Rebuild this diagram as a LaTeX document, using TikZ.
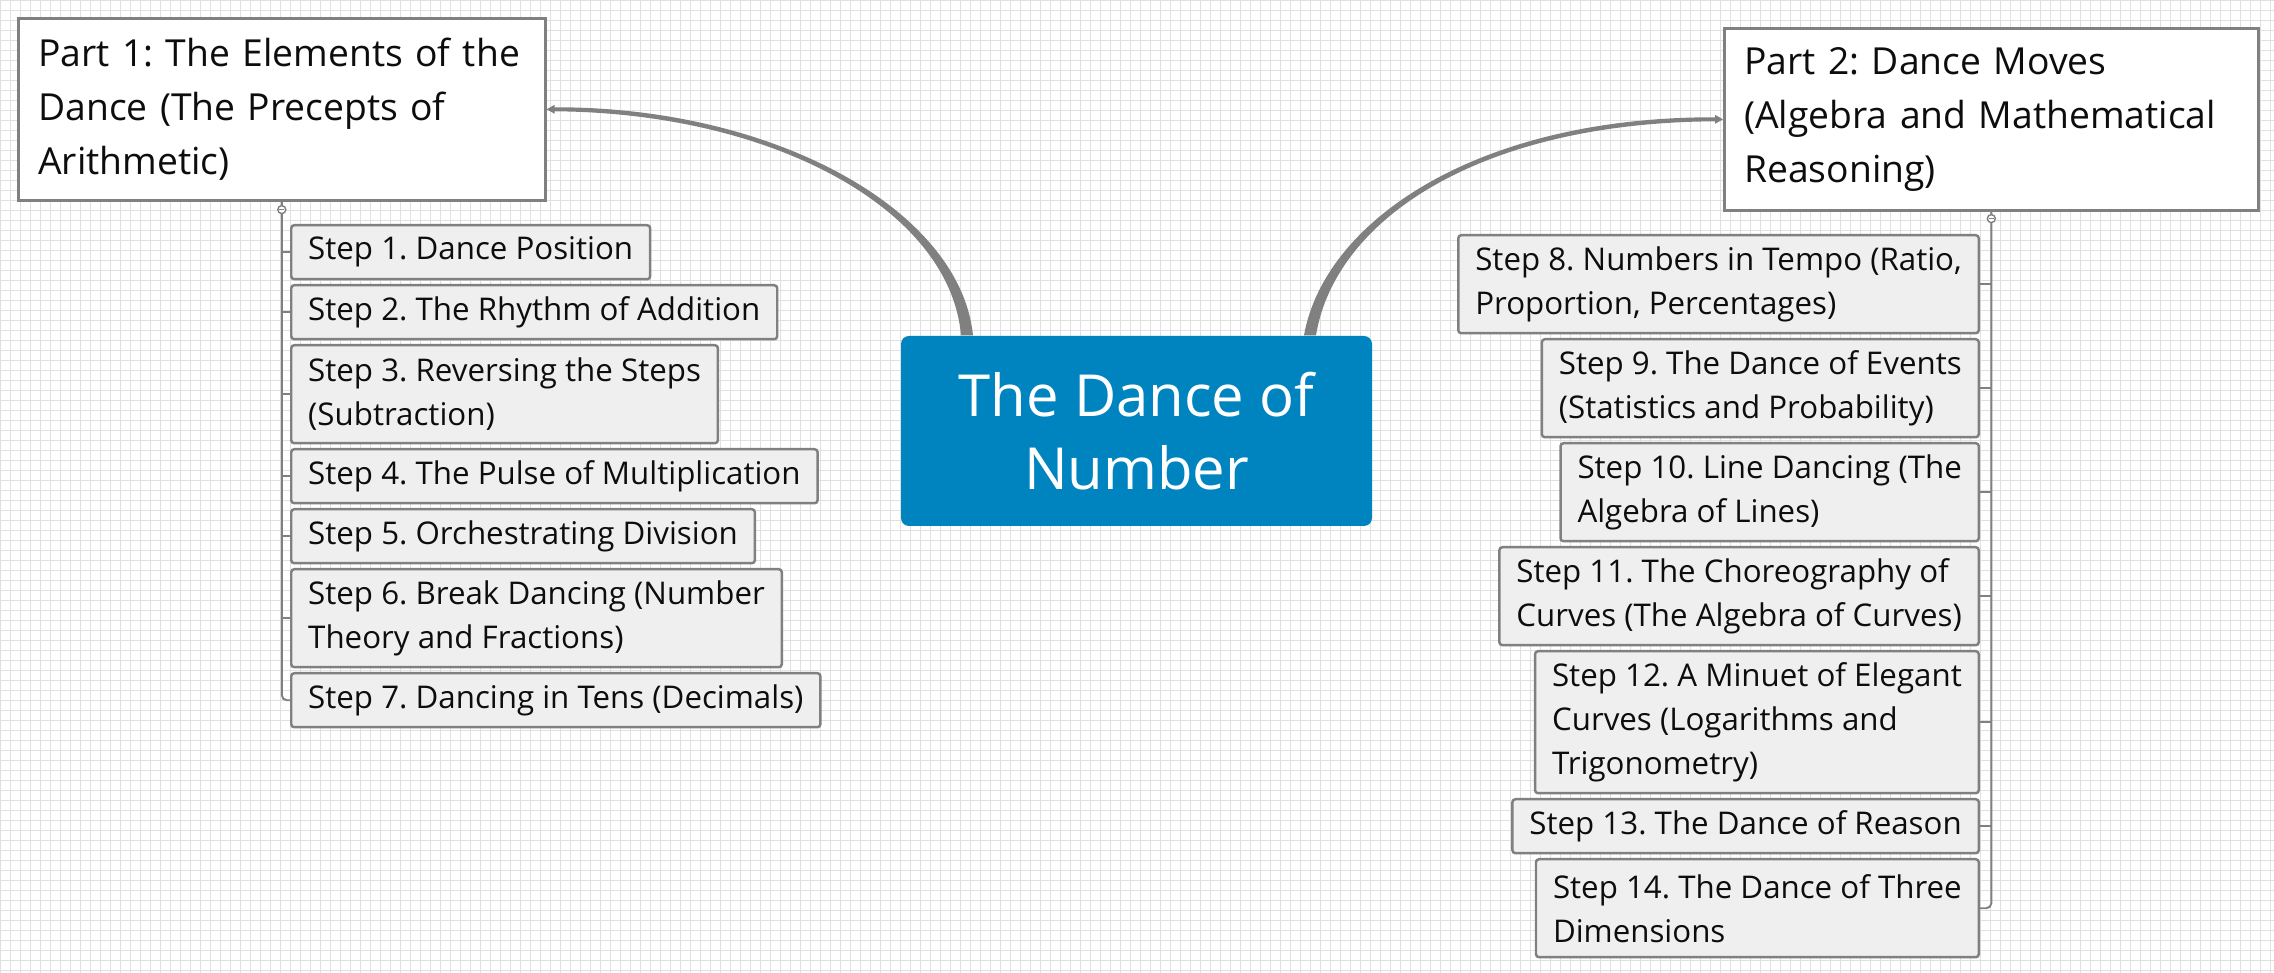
\documentclass[tikz,border=0pt]{standalone}
\usepackage{fontspec}
\setmainfont{Open Sans}
\usetikzlibrary{calc}
\definecolor{rootblue}{RGB}{0,132,192}
\definecolor{linkgray}{RGB}{128,128,128}
\definecolor{boxgray}{RGB}{239,239,239}
\pgfdeclarelayer{background}
\pgfsetlayers{background,main}
\frenchspacing

\begin{document}
\begin{tikzpicture}[x=0.1mm,y=-0.1mm]
        \tikzstyle{every node}=[inner sep=0pt, text=black!95]
        \tikzstyle{gridline}=[draw=black!12, line width=0.25pt, step=1mm]
        \tikzstyle{root}=[fill=rootblue, rounded corners=0.8mm, text=white, align=center, minimum width=47.1mm, minimum height=19mm, font=\fontsize{16.5}{20.7}\selectfont]
        \tikzstyle{part}=[draw=linkgray, fill=white, line width=0.75pt, inner xsep=2mm, align=left, minimum height=18.2mm, font=\fontsize{10.6}{15.4}\selectfont]
        \tikzstyle{stepbox}=[draw=linkgray, fill=boxgray, line width=0.7pt, rounded corners=0.3mm, inner xsep=1.7mm, align=left, font=\fontsize{8.9}{12.5}\selectfont]
        \tikzstyle{one}=[minimum height=5.4mm]
        \tikzstyle{two}=[minimum height=9.8mm]
        \tikzstyle{three}=[minimum height=14.2mm]
        \tikzstyle{link}=[fill=linkgray]
        \tikzstyle{trunk}=[draw=linkgray, line width=0.55pt]
        \tikzstyle{fold}=[circle, draw=linkgray, fill=white, line width=0.4pt, minimum size=0.8mm,
            path picture={\draw[linkgray, line width=0.3pt] ([xshift=-0.25mm]path picture bounding box.center) -- ([xshift=0.25mm]path picture bounding box.center);}]

        \useasboundingbox (0,0) rectangle (2274,973);
        \begin{pgfonlayer}{background}
            \fill[white] (0,0) rectangle (2274,973);
            \draw[gridline] (0,0) grid (2274,973);
        \end{pgfonlayer}

        % centre and the two parts
        \node[root] (root) at (1136.5,431) {The Dance of\\Number};
        \node[part, anchor=north west, text width=48.7mm] (part1) at (17,17) {Part 1: The Elements of the\\Dance (The Precepts of\\Arithmetic)};
        \node[part, anchor=north west, text width=49.4mm] (part2) at (1723,27) {Part 2: Dance Moves\\(Algebra and Mathematical\\Reasoning)};

        % steps of part 1
        \node[stepbox, one, anchor=north west] (s1) at (290,224) {Step 1. Dance Position};
        \node[stepbox, one, anchor=north west] (s2) at (290,284) {Step 2. The Rhythm of Addition};
        \node[stepbox, two, anchor=north west] (s3) at (290,344) {Step 3. Reversing the Steps\\(Subtraction)};
        \node[stepbox, one, anchor=north west] (s4) at (290,448) {Step 4. The Pulse of Multiplication};
        \node[stepbox, one, anchor=north west] (s5) at (290,508) {Step 5. Orchestrating Division};
        \node[stepbox, two, anchor=north west] (s6) at (290,568) {Step 6. Break Dancing (Number\\Theory and Fractions)};
        \node[stepbox, one, anchor=north west] (s7) at (290,672) {Step 7. Dancing in Tens (Decimals)};

        % steps of part 2
        \node[stepbox, two, anchor=north east] (s8) at (1980,234) {Step 8. Numbers in Tempo (Ratio,\\Proportion, Percentages)};
        \node[stepbox, two, anchor=north east] (s9) at (1980,338) {Step 9. The Dance of Events\\(Statistics and Probability)};
        \node[stepbox, two, anchor=north east] (s10) at (1980,442) {Step 10. Line Dancing (The\\Algebra of Lines)};
        \node[stepbox, two, anchor=north east] (s11) at (1980,546) {Step 11. The Choreography of\\Curves (The Algebra of Curves)};
        \node[stepbox, three, anchor=north east] (s12) at (1980,650) {Step 12. A Minuet of Elegant\\Curves (Logarithms and\\Trigonometry)};
        \node[stepbox, one, anchor=north east] (s13) at (1980,798) {Step 13. The Dance of Reason};
        \node[stepbox, two, anchor=north east] (s14) at (1980,858) {Step 14. The Dance of Three\\Dimensions};

        \begin{pgfonlayer}{background}
            \fill[link] ($(root.north)+(-163.5,0)$) .. controls ($(root.north)+(-176.5,-126)$) and ($(part1.east)+(226,-3)$) .. ($(part1.east)+(7,-2)$)
                -- ($(part1.east)+(7,2)$) .. controls ($(part1.east)+(226,3)$) and ($(root.north)+(-186.5,-126)$) .. ($(root.north)+(-175.5,0)$) -- cycle;
            \fill[link] ($(root.north)+(167.5,0)$) .. controls ($(root.north)+(188.5,-116)$) and ($(part2.west)+(-243,-3)$) .. ($(part2.west)+(-7,-2)$)
                -- ($(part2.west)+(-7,2)$) .. controls ($(part2.west)+(-243,3)$) and ($(root.north)+(198.5,-116)$) .. ($(root.north)+(179.5,0)$) -- cycle;
        \end{pgfonlayer}
        \fill[link] (part1.east) -- ++(8,-4.5) -- ++(0,9) -- cycle;
        \fill[link] (part2.west) -- ++(-8,-4.5) -- ++(0,9) -- cycle;

        \draw[trunk, rounded corners=0.5mm] (part1.south) |- (s7.west);
        \draw[trunk] (part1.south |- s1.west) -- (s1.west) (part1.south |- s2.west) -- (s2.west)
            (part1.south |- s3.west) -- (s3.west) (part1.south |- s4.west) -- (s4.west)
            (part1.south |- s5.west) -- (s5.west) (part1.south |- s6.west) -- (s6.west);
        \draw[trunk, rounded corners=0.5mm] (part2.south) |- (s14.east);
        \draw[trunk] (part2.south |- s8.east) -- (s8.east) (part2.south |- s9.east) -- (s9.east)
            (part2.south |- s10.east) -- (s10.east) (part2.south |- s11.east) -- (s11.east)
            (part2.south |- s12.east) -- (s12.east) (part2.south |- s13.east) -- (s13.east);
        \node[fold] (fold1) at ($(part1.south)+(0,8)$) {};
        \node[fold] (fold2) at ($(part2.south)+(0,7)$) {};
\end{tikzpicture}
\end{document}
